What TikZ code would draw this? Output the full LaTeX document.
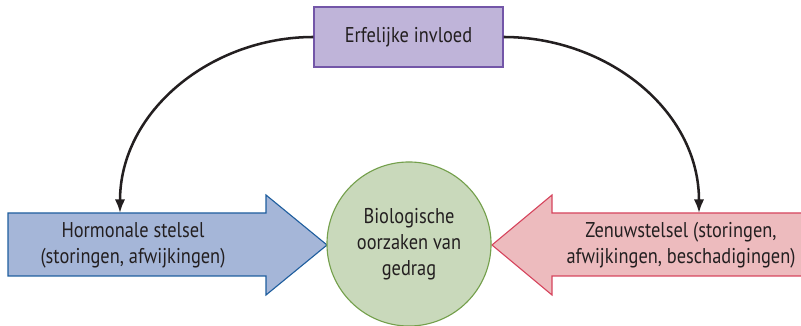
\documentclass[tikz,border=0pt]{standalone}
\usepackage{xcolor}
\usepackage{fontspec}
\setmainfont{PT Sans}[FakeStretch=0.86]
\usepackage{tikz}
\usetikzlibrary{arrows.meta,positioning}

\definecolor{tekst}{HTML}{231F20}
\definecolor{paarsvul}{HTML}{BFB4D9}
\definecolor{paarsrand}{HTML}{7356A8}
\definecolor{blauwvul}{HTML}{A5B6D8}
\definecolor{blauwrand}{HTML}{1F5E9E}
\definecolor{groenvul}{HTML}{C9D9BB}
\definecolor{groenrand}{HTML}{74A04C}
\definecolor{roodvul}{HTML}{EDBBBE}
\definecolor{roodrand}{HTML}{D6465E}

\begin{document}
\begin{tikzpicture}[
			x = 0.025cm, y = -0.025cm,
			every node/.style = {font=\fontsize{15.2}{18.5}\selectfont, text=tekst, align=center},
			erfbox/.style = {draw=paarsrand, fill=paarsvul, line width=.8pt, minimum width=4.725cm, minimum height=1.5cm, inner sep=0pt},
			oorzaak/.style = {circle, draw=groenrand, fill=groenvul, line width=.8pt, minimum size=4.1cm, inner sep=0pt},
			hormpijl/.style = {draw=blauwrand, fill=blauwvul, line width=.8pt, line join=miter},
			zenuwpijl/.style = {draw=roodrand, fill=roodvul, line width=.8pt, line join=miter},
			invloed/.style = {draw=tekst, line width=1.8pt, -{Latex[length=3.4mm,width=2.6mm]}}
		]

			\useasboundingbox (0,0) rectangle (801,326);

			\draw[hormpijl] (8,213) -- (266,213) -- (266,195) -- (327,245) -- (266,295) -- (266,276) -- (8,276) -- cycle;
			\draw[zenuwpijl] (812,213) -- (552,213) -- (552,195) -- (492,245) -- (552,295) -- (552,276) -- (812,276) -- cycle;

			\node[erfbox] (erf) at (408.5,37) {Erfelijke invloed};
			\node[oorzaak] (gedrag) at (409,244) {Biologische\\oorzaken van\\gedrag};
			\node (horm) at (133,245) {Hormonale stelsel\\(storingen, afwijkingen)};
			\node (zenuw) at (681,245) {Zenuwstelsel (storingen,\\afwijkingen, beschadigingen)};

			\coordinate (hormtop) at (120,213);
			\coordinate (zenuwtop) at (699,213);

			\draw[invloed] (erf.west) to[out=180,in=90] (hormtop);
			\draw[invloed] (erf.east) to[out=0,in=90] (zenuwtop);

		\end{tikzpicture}
\end{document}
